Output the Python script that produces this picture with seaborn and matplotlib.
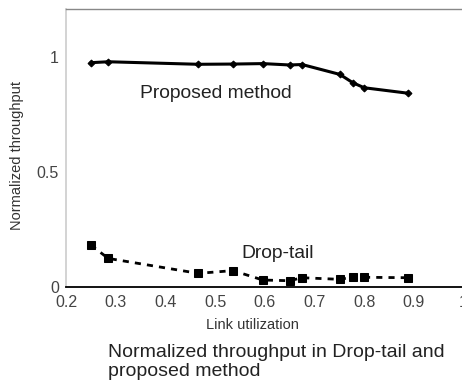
import matplotlib
matplotlib.use("Agg")
import matplotlib.pyplot as plt
import seaborn as sns
import pandas as pd

# Data
link_util = [0.25, 0.285, 0.466, 0.536, 0.596, 0.65, 0.675, 0.751, 0.777, 0.80, 0.889]
proposed = [0.974, 0.978, 0.967, 0.968, 0.970, 0.964, 0.966, 0.923, 0.887, 0.865, 0.841]
drop_tail = [0.181, 0.123, 0.058, 0.070, 0.029, 0.026, 0.039, 0.032, 0.042, 0.041, 0.039]
x_ticks = [0.2, 0.3, 0.4, 0.5, 0.6, 0.7, 0.8, 0.9, 1.0]
x_tick_labels = ["0.2", "0.3", "0.4", "0.5", "0.6", "0.7", "0.8", "0.9", "1"]
y_ticks = [0, 0.5, 1]
y_tick_labels = ["0", "0.5", "1"]
caption_lines = ["Normalized throughput in Drop-tail and", "proposed method"]

sns.set_style("white")
plt.rcParams["font.family"] = ["Liberation Sans", "DejaVu Sans"]

W, H = 462, 381
fig = plt.figure(figsize=(W / 100, H / 100), dpi=100)
ax_left, ax_bottom = 66, 381 - 286.7
ax_w = 497 * 0.8          # 0.2 -> 1.0
ax_h = 230 * 1.207
ax = fig.add_axes([ax_left / W, ax_bottom / H, ax_w / W, ax_h / H])

df_p = pd.DataFrame({"x": link_util, "y": proposed})
df_d = pd.DataFrame({"x": link_util, "y": drop_tail})

sns.lineplot(data=df_p, x="x", y="y", ax=ax, color="black", linewidth=2.2,
             marker="D", markersize=3.5, markeredgecolor="black", estimator=None, sort=False)
sns.lineplot(data=df_d, x="x", y="y", ax=ax, color="black", linewidth=2.0,
             linestyle=(0, (2.2, 2.2)), marker="s", markersize=6,
             markeredgecolor="black", estimator=None, sort=False)

ax.set_xlim(0.2, 1.0)
ax.set_ylim(0, 1.207)
ax.set_xticks(x_ticks)
ax.set_xticklabels(x_tick_labels)
ax.set_yticks(y_ticks)
ax.set_yticklabels(y_tick_labels)
ax.tick_params(axis="x", length=0, labelsize=11.5, colors="#444444", pad=6)
ax.tick_params(axis="y", length=0, labelsize=11.5, colors="#444444", pad=5)
ax.set_xlabel("Link utilization", fontsize=10.5, color="#333333")
ax.set_ylabel("Normalized throughput", fontsize=10.5, color="#333333")
ax.xaxis.set_label_coords((252.5 - 66) / ax_w, (286.7 - 318) / ax_h)
ax.yaxis.set_label_coords((24 - 66) / ax_w, (286.7 - 155) / ax_h)

ax.spines["right"].set_visible(False)
ax.spines["top"].set_color("#888888")
ax.spines["top"].set_linewidth(1.0)
ax.spines["left"].set_color("#cccccc")
ax.spines["left"].set_linewidth(1.2)
ax.spines["bottom"].set_color("black")
ax.spines["bottom"].set_linewidth(1.3)

ax.text(0.502, 0.838, "Proposed method", fontsize=13.9, color="#222222",
        ha="center", va="center")
ax.text(0.6255, 0.145, "Drop-tail", fontsize=13.9, color="#222222",
        ha="center", va="center")

for line, baseline in zip(caption_lines, [356.7, 375.5]):
    fig.text(108 / W, 1 - baseline / H, line, fontsize=14, color="#222222",
             ha="left", va="baseline")

fig.savefig("out.png", dpi=100)
